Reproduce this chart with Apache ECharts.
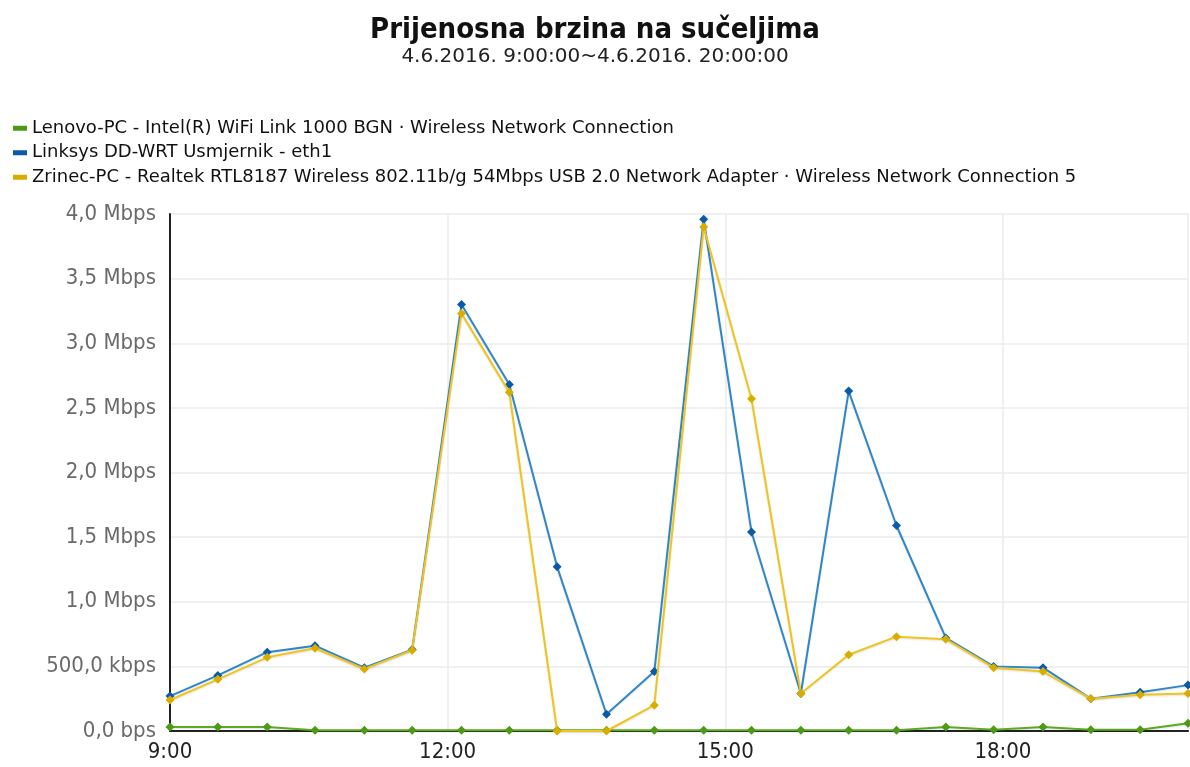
<!DOCTYPE html>
<html>
<head>
<meta charset="utf-8">
<title>Prijenosna brzina na sučeljima</title>
<script src="https://cdn.jsdelivr.net/npm/echarts@6/dist/echarts.min.js"></script>
<style>
  html, body { margin: 0; padding: 0; background: #fff; }
  #chart { width: 1190px; height: 767px; }
</style>
</head>
<body>
<div id="chart"></div>
<script>
const FONT = '"DejaVu Sans Condensed", "DejaVu Sans", sans-serif';
const WIDE = '"DejaVu Sans", sans-serif';

// sample times (one every ~31 min between 9:00 and 20:00)
const times = ['9:00', '9:31', '10:03', '10:34', '11:06', '11:37', '12:09', '12:40', '13:11', '13:43', '14:14',
    '14:46', '15:17', '15:49', '16:20', '16:51', '17:23', '17:54', '18:26', '18:57', '19:29', '20:00'];

const seriesNames = [
    'Lenovo-PC - Intel(R) WiFi Link 1000 BGN · Wireless Network Connection',
    'Linksys DD-WRT Usmjernik - eth1',
    'Zrinec-PC - Realtek RTL8187 Wireless 802.11b/g 54Mbps USB 2.0 Network Adapter · Wireless Network Connection 5',
];

// Mbps
const lenovo = [0.03, 0.03, 0.03, 0.005, 0.005, 0.005, 0.005, 0.005, 0.005, 0.005, 0.005,
    0.005, 0.005, 0.005, 0.005, 0.005, 0.03, 0.01, 0.03, 0.01, 0.01, 0.06];
const linksys = [0.27, 0.43, 0.61, 0.66, 0.49, 0.63, 3.30, 2.68, 1.27, 0.13, 0.46,
    3.96, 1.54, 0.29, 2.63, 1.59, 0.72, 0.50, 0.49, 0.25, 0.30, 0.355];
const zrinec = [0.24, 0.40, 0.57, 0.64, 0.48, 0.625, 3.23, 2.62, 0, 0, 0.20,
    3.90, 2.57, 0.29, 0.59, 0.73, 0.71, 0.49, 0.46, 0.25, 0.28, 0.29];

const lineColors = ['#5aab1e', '#2f86c8', '#f0c41e'];
const markColors = ['#4c9a16', '#0b5aa8', '#d9ad00'];

function toMinutes(t) {
    const [h, m] = t.split(':').map(Number);
    return h * 60 + m;
}

function pairs(values) {
    return values.map((v, i) => [toMinutes(times[i]), v]);
}

function rateLabel(v) {
    if (v === 0) return '0,0 bps';
    if (v < 1) return (v * 1000).toFixed(1).replace('.', ',') + ' kbps';
    return v.toFixed(1).replace('.', ',') + ' Mbps';
}

const chart = echarts.init(document.getElementById('chart'), null, { renderer: 'canvas' });

chart.setOption({
    animation: false,
    color: lineColors,
    title: {
        text: 'Prijenosna brzina na sučeljima',
        subtext: '4.6.2016. 9:00:00~4.6.2016. 20:00:00',
        left: 'center',
        top: 11,
        itemGap: 2,
        textStyle: { fontFamily: FONT, fontSize: 29, fontWeight: 'bold', color: '#111' },
        subtextStyle: { fontFamily: WIDE, fontSize: 20, color: '#222' },
    },
    legend: {
        orient: 'vertical',
        left: 8,
        top: 113,
        icon: 'rect',
        itemWidth: 14,
        itemHeight: 5,
        itemGap: 4,
        textStyle: { fontFamily: WIDE, fontSize: 18, color: '#111', lineHeight: 20.5 },
        data: seriesNames,
    },
    grid: { left: 170, right: 2, top: 214, bottom: 36 },
    xAxis: {
        type: 'value',
        min: 540,
        max: 1200,
        interval: 180,
        axisLine: { lineStyle: { color: '#222', width: 2 } },
        axisTick: { show: false },
        axisLabel: {
            fontFamily: FONT,
            fontSize: 22,
            color: '#222',
            margin: 10,
            showMaxLabel: false,
            formatter: v => Math.floor(v / 60) + ':' + String(v % 60).padStart(2, '0'),
        },
        splitLine: { show: true, lineStyle: { color: '#ebebeb', width: 1.5 } },
    },
    yAxis: {
        type: 'value',
        min: 0,
        max: 4,
        interval: 0.5,
        axisLine: { show: true, lineStyle: { color: '#222', width: 2 } },
        axisTick: { show: false },
        axisLabel: { fontFamily: FONT, fontSize: 22, color: '#6a6a6a', margin: 14, formatter: rateLabel },
        splitLine: { lineStyle: { color: '#ebebeb', width: 1.5 } },
    },
    series: [lenovo, linksys, zrinec].map((vals, i) => ({
        name: seriesNames[i],
        type: 'line',
        data: pairs(vals),
        symbol: 'diamond',
        symbolSize: 9,
        showAllSymbol: true,
        clip: false,
        z: 2 + i,
        lineStyle: { color: lineColors[i], width: 2, shadowColor: 'rgba(0,0,0,0.12)', shadowBlur: 2, shadowOffsetY: 1 },
        itemStyle: { color: markColors[i], borderWidth: 0 },
        emphasis: { disabled: true },
    })),
});
</script>
</body>
</html>
